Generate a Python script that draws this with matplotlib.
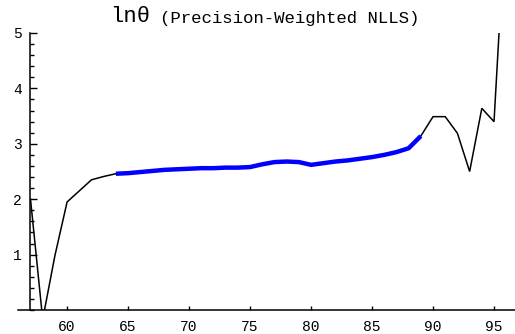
import matplotlib
matplotlib.use("Agg")
import matplotlib.pyplot as plt
from matplotlib.ticker import MultipleLocator, FixedLocator
import numpy as np

# ln(theta) estimates by age
ages = [57, 58, 59, 60, 61, 62, 63, 64, 65, 66, 67, 68, 69, 70, 71, 72, 73, 74,
        75, 76, 77, 78, 79, 80, 81, 82, 83, 84, 85, 86, 87, 88, 89, 90, 91, 92,
        93, 94, 95, 96]
ln_theta = [2.00, -0.17, 0.98, 1.95, 2.15, 2.35, 2.41, 2.46, 2.47, 2.49, 2.51,
            2.53, 2.54, 2.55, 2.56, 2.56, 2.57, 2.57, 2.58, 2.63, 2.67, 2.68,
            2.67, 2.62, 2.65, 2.68, 2.70, 2.73, 2.76, 2.80, 2.85, 2.92, 3.14,
            3.49, 3.49, 3.19, 2.50, 3.64, 3.40, 7.30]
# highlighted age window
fit_start, fit_end = 64, 89

x_ticks = [60, 65, 70, 75, 80, 85, 90, 95]
y_ticks = [1, 2, 3, 4, 5]

mono = ["Liberation Mono", "DejaVu Sans Mono"]

fig = plt.figure(figsize=(5.15, 3.34), dpi=100)
ax = fig.add_axes([18.3 / 515, 24 / 334, 1 - 18.3 / 515, 277 / 334])
ax.set_xlim(56.0, 96.72)
ax.set_ylim(0, 5.0)

x = np.array(ages)
y = np.array(ln_theta)
ax.plot(x, y, color="black", lw=1.1, solid_joinstyle="miter", zorder=2)
sel = (x >= fit_start) & (x <= fit_end)
ax.plot(x[sel], y[sel], color="#0000ff", lw=3.2, solid_capstyle="butt", zorder=3)

# axes crossing at (57, 0)
for s in ("top", "right"):
    ax.spines[s].set_visible(False)
ax.spines["left"].set_position(("data", 57))
ax.spines["left"].set_bounds(0, 5.0)
ax.spines["bottom"].set_position(("data", 0))
for s in ("left", "bottom"):
    ax.spines[s].set_linewidth(1.1)

ax.xaxis.set_major_locator(FixedLocator(x_ticks))
ax.yaxis.set_major_locator(FixedLocator(y_ticks))
ax.yaxis.set_minor_locator(MultipleLocator(0.2))
ax.tick_params(axis="x", direction="in", length=3, width=1, pad=7,
               labelsize=10.5)
ax.tick_params(axis="y", which="major", direction="in", length=5, width=1,
               pad=6, labelsize=10.5)
ax.tick_params(axis="y", which="minor", direction="in", length=3, width=1)
for lab in ax.get_xticklabels() + ax.get_yticklabels():
    lab.set_family(mono)

fig.text(130 / 515, 1 - 16 / 334, "lnθ", family=mono, fontsize=16,
         ha="center", va="center")
fig.text(290 / 515, 1 - 18 / 334, "(Precision-Weighted NLLS)", family=mono,
         fontsize=12.5, ha="center", va="center")

fig.savefig("out.png", dpi=100)
